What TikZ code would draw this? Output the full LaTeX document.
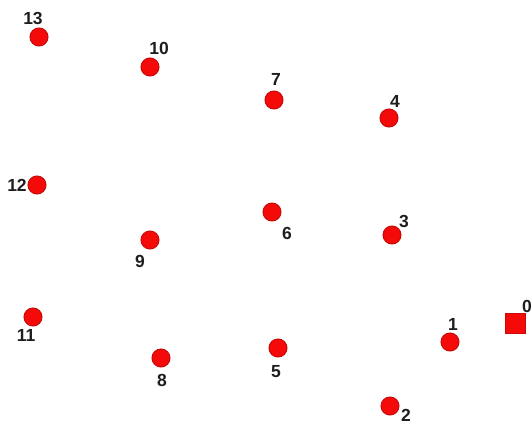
\documentclass[tikz,border=0pt]{standalone}
\usepackage{fontspec}
\setmainfont{Liberation Sans}
\definecolor{dotfill}{HTML}{F50A0A}
\definecolor{dotedge}{HTML}{C80A0A}
\definecolor{lbl}{HTML}{1E1E1E}
\begin{document}
\begin{tikzpicture}[x=1pt,y=-1pt,
  dot/.style={circle,fill=dotfill,draw=dotedge,line width=1pt,minimum size=18pt,inner sep=0pt},
  depot/.style={rectangle,fill=dotfill,draw=dotedge,line width=1pt,minimum size=20pt,inner sep=0pt},
  lab/.style={text=lbl,font=\bfseries\fontsize{17.5}{17.5}\selectfont,inner sep=0pt,text height=12.5pt,text depth=0pt}]
\useasboundingbox (0,0) rectangle (532,426);
% nodes
\node[depot] (n0) at (515,323) {};
\node[dot] (n1) at (450,342) {};
\node[dot] (n2) at (390,406) {};
\node[dot] (n3) at (392,235) {};
\node[dot] (n4) at (389,118) {};
\node[dot] (n5) at (278,348) {};
\node[dot] (n6) at (272,212) {};
\node[dot] (n7) at (274,100) {};
\node[dot] (n8) at (161,358) {};
\node[dot] (n9) at (150,240) {};
\node[dot] (n10) at (150,67) {};
\node[dot] (n11) at (33,317) {};
\node[dot] (n12) at (37,185) {};
\node[dot] (n13) at (39,37) {};
% labels
\node[lab] (l0) at (527,306) {0};
\node[lab] (l1) at (453,324) {1};
\node[lab] (l2) at (406,415) {2};
\node[lab] (l3) at (404,221) {3};
\node[lab] (l4) at (395,101) {4};
\node[lab] (l5) at (276,371) {5};
\node[lab] (l6) at (287,233) {6};
\node[lab] (l7) at (276,79) {7};
\node[lab] (l8) at (162,380) {8};
\node[lab] (l9) at (140,261) {9};
\node[lab] (l10) at (159,48) {10};
\node[lab] (l11) at (26,335) {11};
\node[lab] (l12) at (17,185) {12};
\node[lab] (l13) at (33,18) {13};
\end{tikzpicture}
\end{document}
